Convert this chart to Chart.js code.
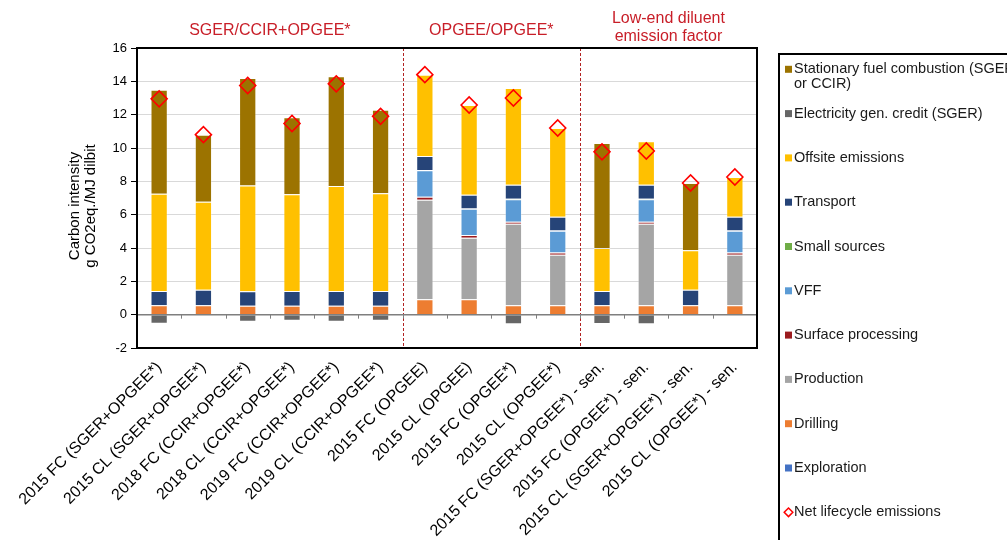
<!DOCTYPE html>
<html>
<head>
<meta charset="utf-8">
<script src="https://cdn.jsdelivr.net/npm/chart.js@4.4.1/dist/chart.umd.min.js"></script>
<style>
html, body { margin: 0; padding: 0; background: #fff; }
#wrap { width: 1007px; height: 540px; overflow: hidden; }
</style>
</head>
<body>
<div id="wrap"><canvas id="c" width="1007" height="540"></canvas></div>
<script>
// Carbon intensity of oil sands pathways, g CO2eq./MJ dilbit
const categories = [
  '2015 FC (SGER+OPGEE*)', '2015 CL (SGER+OPGEE*)', '2018 FC (CCIR+OPGEE*)',
  '2018 CL (CCIR+OPGEE*)', '2019 FC (CCIR+OPGEE*)', '2019 CL (CCIR+OPGEE*)',
  '2015 FC (OPGEE)', '2015 CL (OPGEE)', '2015 FC (OPGEE*)', '2015 CL (OPGEE*)',
  '2015 FC (SGER+OPGEE*) - sen.', '2015 FC (OPGEE*) - sen.',
  '2015 CL (SGER+OPGEE*) - sen.', '2015 CL (OPGEE*) - sen.'
];

// stack components, bottom to top
const exploration  = [0.03, 0.03, 0.03, 0.03, 0.03, 0.03, 0.03, 0.03, 0.03, 0.03, 0.03, 0.03, 0.03, 0.03];
const drilling     = [0.53, 0.53, 0.51, 0.51, 0.51, 0.51, 0.89, 0.89, 0.53, 0.53, 0.53, 0.53, 0.53, 0.53];
const production   = [0, 0, 0, 0, 0, 0, 5.98, 3.70, 4.89, 3.04, 0, 4.89, 0, 3.04];
const surfaceProc  = [0, 0, 0, 0, 0, 0, 0.18, 0.16, 0.12, 0.13, 0, 0.12, 0, 0.13];
const vff          = [0, 0, 0, 0, 0, 0, 1.58, 1.57, 1.36, 1.30, 0, 1.36, 0, 1.30];
const smallSources = [0, 0, 0, 0, 0, 0, 0.02, 0.02, 0.02, 0.02, 0, 0.02, 0, 0.02];
const transport    = [0.86, 0.94, 0.86, 0.88, 0.88, 0.88, 0.84, 0.83, 0.85, 0.82, 0.86, 0.85, 0.94, 0.82];
const offsite      = [5.83, 5.27, 6.35, 5.80, 6.30, 5.86, 4.88, 5.38, 5.80, 5.33, 2.58, 2.60, 2.37, 2.39];
const elecCredit   = [-0.55, 0, -0.42, -0.36, -0.42, -0.36, 0, 0, -0.58, 0, -0.56, -0.58, 0, 0];
const stationary   = [6.25, 4.03, 6.45, 4.63, 6.58, 5.02, 0, 0, 0, 0, 6.30, 0, 4.03, 0];
const netLifecycle = [12.95, 10.8, 13.75, 11.47, 13.85, 11.9, 14.4, 12.58, 13.0, 11.2, 9.77, 9.82, 7.9, 8.26];

const yMin = -2, yMax = 16, yStep = 2;
const yTitle = ['Carbon intensity', 'g CO2eq./MJ dilbit'];

// bracketed groups of columns with their headings
const groupTitles = [['SGER/CCIR+OPGEE*'], ['OPGEE/OPGEE*'], ['Low-end diluent', 'emission factor']];
const groupFirst  = [0, 6, 10];
const groupLast   = [5, 9, 13];

const FONT = '"Liberation Sans", Arial, Helvetica, sans-serif';

function barSet(label, data, color) {
  return {
    type: 'bar', label, data, backgroundColor: color,
    borderColor: 'rgba(255,255,255,0.28)', borderWidth: 1,
    stack: 'ci', barPercentage: 0.39, categoryPercentage: 1.0
  };
}

const datasets = [
  barSet('Exploration', exploration, '#4472C4'),
  barSet('Drilling', drilling, '#ED7D31'),
  barSet('Production', production, '#A5A5A5'),
  barSet('Surface processing', surfaceProc, '#9B1B1F'),
  barSet('VFF', vff, '#5B9BD5'),
  barSet('Small sources', smallSources, '#70AD47'),
  barSet('Transport', transport, '#264478'),
  barSet('Offsite emissions', offsite, '#FFC000'),
  barSet('Electricity gen. credit (SGER)', elecCredit, '#666666'),
  barSet('Stationary fuel combustion (SGER or CCIR)', stationary, '#9C7300'),
  {
    type: 'line', label: 'Net lifecycle emissions', data: netLifecycle,
    showLine: false, pointStyle: 'rectRot', pointRadius: 8, pointHoverRadius: 8,
    borderColor: '#FF0000', backgroundColor: 'rgba(0,0,0,0)', pointBorderWidth: 1.6,
    order: -1
  }
];

// frame, separators, baseline ticks, axis title and headings
const decorPlugin = {
  id: 'decor',
  beforeDatasetsDraw(chart) {
    const { ctx, chartArea: a, scales: { x } } = chart;
    ctx.save();
    ctx.strokeStyle = '#B22222';
    ctx.lineWidth = 1;
    ctx.setLineDash([3, 2]);
    for (let g = 1; g < groupFirst.length; g++) {
      const px = Math.round((x.getPixelForValue(groupFirst[g] - 1) + x.getPixelForValue(groupFirst[g])) / 2) + 0.5;
      ctx.beginPath(); ctx.moveTo(px, a.top); ctx.lineTo(px, a.bottom); ctx.stroke();
    }
    ctx.restore();
  },
  afterDatasetsDraw(chart) {
    const { ctx, chartArea: a, scales: { x, y } } = chart;
    const y0 = y.getPixelForValue(0);
    ctx.save();
    ctx.strokeStyle = '#7F7F7F';
    ctx.lineWidth = 1.5;
    ctx.beginPath(); ctx.moveTo(a.left, y0); ctx.lineTo(a.right, y0); ctx.stroke();
    ctx.lineWidth = 1;
    for (let i = 1; i < categories.length; i++) {
      const px = Math.round((x.getPixelForValue(i - 1) + x.getPixelForValue(i)) / 2) + 0.5;
      ctx.beginPath(); ctx.moveTo(px, y0); ctx.lineTo(px, y0 + 4); ctx.stroke();
    }
    ctx.restore();
  },
  afterDraw(chart) {
    const { ctx, chartArea: a, scales: { x } } = chart;
    ctx.save();
    ctx.strokeStyle = '#000';
    ctx.lineWidth = 2;
    ctx.strokeRect(a.left, a.top, a.right - a.left, a.bottom - a.top);

    // rotated two-line axis title
    ctx.save();
    ctx.translate(a.left - 62, (a.top + a.bottom) / 2 + 8);
    ctx.rotate(-Math.PI / 2);
    ctx.fillStyle = '#000';
    ctx.font = '15px ' + FONT;
    ctx.textAlign = 'center';
    ctx.textBaseline = 'middle';
    yTitle.forEach((t, k) => ctx.fillText(t, 0, k * 16));
    ctx.restore();

    ctx.fillStyle = '#C81E28';
    ctx.font = '16px ' + FONT;
    ctx.textAlign = 'center';
    ctx.textBaseline = 'middle';
    groupTitles.forEach((lines, g) => {
      const cx = (x.getPixelForValue(groupFirst[g]) + x.getPixelForValue(groupLast[g])) / 2;
      const base = lines.length > 1 ? 11 : 17;
      lines.forEach((t, k) => {
        const ly = a.top - base - (lines.length - 1 - k) * 18;
        ctx.fillText(t, cx, ly);
      });
    });
    ctx.restore();
  }
};

// boxed legend at the right of the plot
const sideLegend = {
  id: 'sideLegend',
  afterDraw(chart) {
    const { ctx, chartArea: a } = chart;
    const boxLeft = a.right + 22, boxTop = a.top + 6;
    ctx.save();
    ctx.strokeStyle = '#000';
    ctx.lineWidth = 2;
    ctx.strokeRect(boxLeft, boxTop, 260, 520);
    ctx.font = '14.5px ' + FONT;
    ctx.textBaseline = 'middle';
    ctx.textAlign = 'left';
    const ds = chart.data.datasets;
    const bars = ds.filter(d => d.type === 'bar').slice().reverse();
    const items = bars.concat(ds.filter(d => d.type === 'line'));
    const textX = boxLeft + 15, maxW = 228;
    items.forEach((d, i) => {
      const iy = boxTop + 15.3 + i * 44.3;
      if (d.type === 'line') {
        const cx = boxLeft + 9.5, r = 4.3;
        ctx.strokeStyle = d.borderColor; ctx.lineWidth = 1.5;
        ctx.beginPath();
        ctx.moveTo(cx, iy - r); ctx.lineTo(cx + r, iy); ctx.lineTo(cx, iy + r); ctx.lineTo(cx - r, iy);
        ctx.closePath(); ctx.stroke();
      } else {
        ctx.fillStyle = d.backgroundColor;
        ctx.fillRect(boxLeft + 6, iy - 3.5, 7, 7);
      }
      // wrap long labels
      const words = d.label.split(' ');
      const lines = []; let cur = '';
      words.forEach(w => {
        const test = cur ? cur + ' ' + w : w;
        if (ctx.measureText(test).width > maxW && cur) { lines.push(cur); cur = w; } else { cur = test; }
      });
      lines.push(cur);
      ctx.fillStyle = '#1A1A1A';
      lines.forEach((t, k) => ctx.fillText(t, textX, iy + k * 14.2));
    });
    ctx.restore();
  }
};

new Chart(document.getElementById('c'), {
  data: { labels: categories, datasets },
  options: {
    responsive: false,
    animation: false,
    devicePixelRatio: 1,
    layout: { padding: { top: 48, right: 250, left: 0, bottom: 0 } },
    plugins: { legend: { display: false }, tooltip: { enabled: false } },
    scales: {
      x: {
        stacked: true,
        grid: { display: false },
        border: { display: false },
        ticks: {
          autoSkip: false, minRotation: 45, maxRotation: 45, padding: 2,
          color: '#000', font: { family: FONT, size: 16 }
        },
        afterFit(scale) { scale.height = 192; }
      },
      y: {
        stacked: true,
        min: yMin, max: yMax,
        border: { display: false },
        grid: {
          color: '#D9D9D9', lineWidth: 1, tickColor: '#000', tickLength: 6
        },
        ticks: { stepSize: yStep, padding: 4, color: '#000', font: { family: FONT, size: 13 } },
        afterFit(scale) { scale.width = 137; }
      }
    }
  },
  plugins: [decorPlugin, sideLegend]
});
</script>
</body>
</html>
